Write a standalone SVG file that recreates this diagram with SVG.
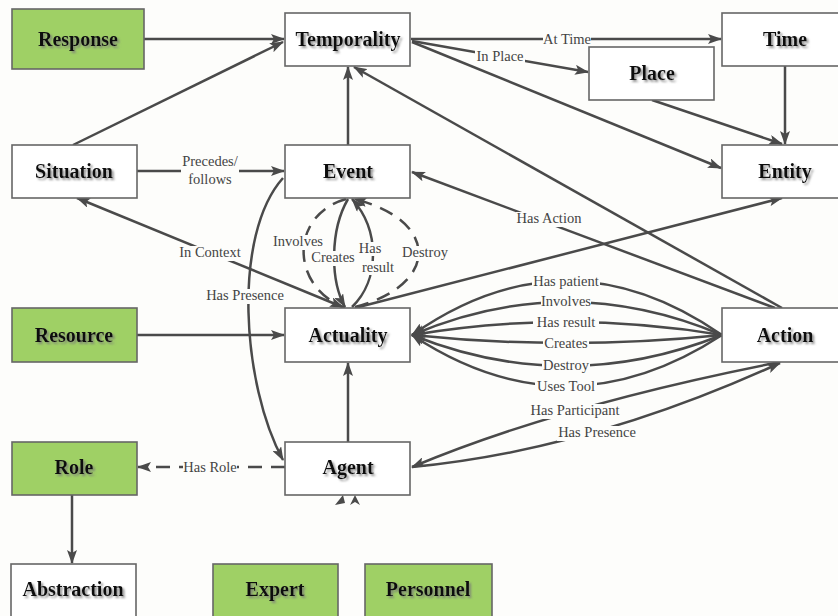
<svg xmlns="http://www.w3.org/2000/svg" width="838" height="616" viewBox="0 0 838 616">
<defs>
<style>
.box{fill:#ffffff;stroke:#666;stroke-width:1.6}
.g{fill:#9fd065}
.nt{font-family:"Liberation Serif",serif;font-weight:bold;font-size:20px;fill:#111;text-anchor:middle;filter:url(#ts)}
.c{fill:none;stroke:#4a4a4a;stroke-width:2.5;marker-end:url(#ah)}
.d{stroke-dasharray:14 9}
.bg{fill:#fdfdfb}
.lb{font-family:"Liberation Serif",serif;font-size:14.5px;fill:#444;text-anchor:middle}
</style>
<marker id="ah" viewBox="0 0 14 10" refX="13" refY="5" markerWidth="14" markerHeight="10" markerUnits="userSpaceOnUse" orient="auto">
<path d="M0,0 L14,5 L0,10 L3,5 z" fill="#4a4a4a"/>
</marker>
<filter id="ts" x="-10%" y="-30%" width="130%" height="170%">
<feDropShadow dx="2" dy="2" stdDeviation="1.2" flood-color="#777" flood-opacity="0.8"/>
</filter>
</defs>
<rect width="838" height="616" fill="#fdfdfb"/>

<g id="connectors">
<path class="c" d="M144,39 L284,39"/>
<path class="c" d="M73,145 L283,42"/>
<path class="c" d="M137,171 L284,171"/>
<path class="c" d="M348,145 L348,67"/>
<path class="c" d="M411,39 L721,39"/>
<path class="c" d="M412,41 L588,72"/>
<path class="c" d="M412,42 L721,168"/>
<path class="c" d="M652,100 L782,144"/>
<path class="c" d="M785,66 L785,144"/>
<path class="c" d="M782,308 L354,67"/>
<path class="c" d="M775,308 L412,172"/>
<path class="c" d="M355,308 L782,198"/>
<path class="c" d="M345,308 L77,198"/>
<path class="c d" d="M346,199 C290,215 290,285 343,307"/>
<path class="c" d="M348,199 C330,230 330,280 345,307"/>
<path class="c" d="M352,307 C380,280 380,230 352,199"/>
<path class="c d" d="M355,307 C440,285 440,220 354,199"/>
<path class="c" d="M137,335 L284,335"/>
<path class="c" d="M348,442 L348,363"/>
<path class="c" d="M722,335 Q566,227 412,335"/>
<path class="c" d="M722,335 Q566,269 412,335"/>
<path class="c" d="M722,335 Q566,309 412,335"/>
<path class="c" d="M722,335 Q566,351 412,335"/>
<path class="c" d="M722,335 Q566,397 412,335"/>
<path class="c" d="M722,335 Q566,437 412,335"/>
<path class="c" d="M780,362 Q560,405 412,467"/>
<path class="c" d="M412,467 Q590,450 780,363"/>
<path class="c" d="M283,178 C232,235 242,385 283,460"/>
<path class="c d" d="M285,467 L138,467"/>
<path class="c" d="M72,495 L72,563"/>
<path d="M335,505 L343,495 L345,503 z M350,505 L355,495 L360,505 L355,502 z" fill="#4a4a4a"/>
</g>

<g id="labels">
<rect class="bg" x="543" y="32" width="48" height="14"/>
<rect class="bg" x="475" y="49" width="50" height="14"/>
<rect class="bg" x="181" y="154" width="58" height="33"/>
<rect class="bg" x="516" y="212" width="66" height="15"/>
<rect class="bg" x="178" y="246" width="64" height="15"/>
<rect class="bg" x="273" y="235" width="50" height="15"/>
<rect class="bg" x="310" y="251" width="46" height="15"/>
<rect class="bg" x="360" y="242" width="21" height="14"/>
<rect class="bg" x="360" y="261" width="36" height="14"/>
<rect class="bg" x="401" y="246" width="48" height="15"/>
<rect class="bg" x="205" y="289" width="80" height="15"/>
<rect class="bg" x="532" y="275" width="68" height="15"/>
<rect class="bg" x="541" y="295" width="50" height="15"/>
<rect class="bg" x="533" y="316" width="66" height="15"/>
<rect class="bg" x="543" y="337" width="46" height="15"/>
<rect class="bg" x="542" y="359" width="48" height="15"/>
<rect class="bg" x="535" y="380" width="62" height="15"/>
<rect class="bg" x="527" y="404" width="96" height="15"/>
<rect class="bg" x="557" y="426" width="80" height="15"/>
<rect class="bg" x="183" y="461" width="54" height="14"/>
<text class="lb" x="567" y="44">At Time</text>
<text class="lb" x="500" y="61">In Place</text>
<text class="lb" x="210" y="166">Precedes/</text>
<text class="lb" x="210" y="184">follows</text>
<text class="lb" x="549" y="223">Has Action</text>
<text class="lb" x="210" y="257">In Context</text>
<text class="lb" x="298" y="246">Involves</text>
<text class="lb" x="333" y="262">Creates</text>
<text class="lb" x="370" y="253">Has</text>
<text class="lb" x="378" y="272">result</text>
<text class="lb" x="425" y="257">Destroy</text>
<text class="lb" x="245" y="300">Has Presence</text>
<text class="lb" x="566" y="286">Has patient</text>
<text class="lb" x="566" y="306">Involves</text>
<text class="lb" x="566" y="327">Has result</text>
<text class="lb" x="566" y="348">Creates</text>
<text class="lb" x="566" y="370">Destroy</text>
<text class="lb" x="566" y="391">Uses Tool</text>
<text class="lb" x="575" y="415">Has Participant</text>
<text class="lb" x="597" y="437">Has Presence</text>
<text class="lb" x="210" y="472">Has Role</text>
</g>

<g id="response"><rect class="box g" x="12" y="9" width="132" height="60"/><text class="nt" x="78" y="46">Response</text></g>
<g id="temporality"><rect class="box" x="285" y="13" width="125" height="53"/><text class="nt" x="348" y="46">Temporality</text></g>
<g id="time"><rect class="box" x="722" y="13" width="125" height="53"/><text class="nt" x="785" y="46">Time</text></g>
<g id="place"><rect class="box" x="589" y="47" width="125" height="53"/><text class="nt" x="652" y="80">Place</text></g>
<g id="situation"><rect class="box" x="12" y="145" width="125" height="53"/><text class="nt" x="74" y="178">Situation</text></g>
<g id="event"><rect class="box" x="285" y="145" width="125" height="53"/><text class="nt" x="348" y="178">Event</text></g>
<g id="entity"><rect class="box" x="722" y="145" width="125" height="53"/><text class="nt" x="785" y="178">Entity</text></g>
<g id="resource"><rect class="box g" x="12" y="308" width="125" height="54"/><text class="nt" x="74" y="342">Resource</text></g>
<g id="actuality"><rect class="box" x="285" y="308" width="125" height="54"/><text class="nt" x="348" y="342">Actuality</text></g>
<g id="action"><rect class="box" x="722" y="308" width="125" height="54"/><text class="nt" x="785" y="342">Action</text></g>
<g id="role"><rect class="box g" x="12" y="442" width="125" height="53"/><text class="nt" x="74" y="474">Role</text></g>
<g id="agent"><rect class="box" x="285" y="442" width="125" height="53"/><text class="nt" x="348" y="474">Agent</text></g>
<g id="abstraction"><rect class="box" x="11" y="564" width="125" height="54"/><text class="nt" x="73" y="596">Abstraction</text></g>
<g id="expert"><rect class="box g" x="213" y="564" width="125" height="54"/><text class="nt" x="275" y="596">Expert</text></g>
<g id="personnel"><rect class="box g" x="365" y="564" width="127" height="54"/><text class="nt" x="428" y="596">Personnel</text></g>
</svg>
